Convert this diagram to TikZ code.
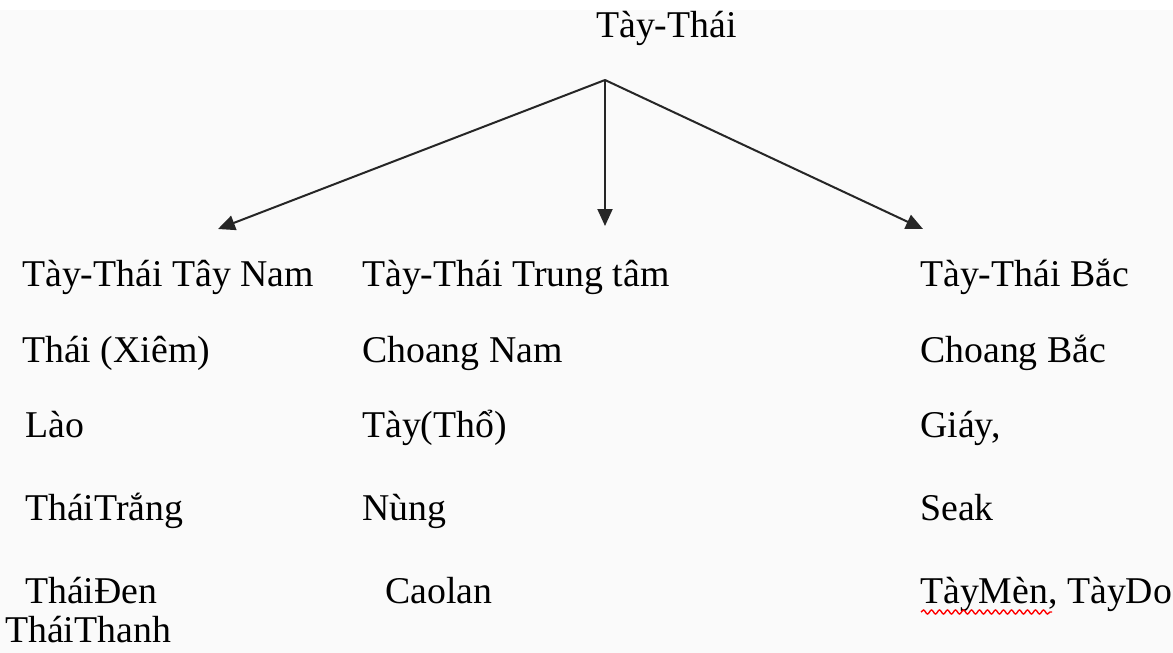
\documentclass[tikz,border=0pt]{standalone}
\usepackage{fontspec}
\setmainfont{LiberationSerif}[Extension=.ttf, UprightFont=*-Regular, BoldFont=*-Bold]
\usetikzlibrary{arrows.meta,decorations.pathmorphing}
\definecolor{paper}{HTML}{FAFAFA}
\definecolor{linegray}{HTML}{262626}
\tikzset{
  lbl/.style={anchor=base west, inner sep=0pt, font=\fontsize{37.8}{40}\selectfont},
  branch/.style={draw=linegray, line width=2pt,
    -{Triangle[length=17pt,width=15pt]}},
  spell/.style={draw=red, line width=1.4pt,
    decorate, decoration={snake, amplitude=2pt, segment length=8pt}}
}
\begin{document}
\begin{tikzpicture}[x=1pt,y=-1pt]
  % page and paper tone
  \fill[white] (0,0) rectangle (1173,653);
  \fill[paper] (0,10) rectangle (1173,653);
  \useasboundingbox (0,0) rectangle (1173,653);

  % root
  \node[lbl] (root) at (596,37) {Tày-Thái};
  \coordinate (fork) at (605,80);

  % branch heads
  \coordinate (tipL) at (218,229);
  \coordinate (tipM) at (605,226);
  \coordinate (tipR) at (923,229);

  \draw[branch] (fork) -- (tipL);
  \draw[branch] (fork) -- (tipM);
  \draw[branch] (fork) -- (tipR);

  % south-western group
  \node[lbl] (sw1) at (22,286) {Tày-Thái Tây Nam};
  \node[lbl] (sw2) at (22,362) {Thái (Xiêm)};
  \node[lbl] (sw3) at (25,437) {Lào};
  \node[lbl] (sw4) at (25,520) {TháiTrắng};
  \node[lbl] (sw5) at (25,603) {TháiĐen};
  \node[lbl] (sw6) at (5,642) {TháiThanh};

  % central group
  \node[lbl] (c1) at (362,286) {Tày-Thái Trung tâm};
  \node[lbl] (c2) at (362,362) {Choang Nam};
  \node[lbl] (c3) at (362,437) {Tày(Thổ)};
  \node[lbl] (c4) at (362,520) {Nùng};
  \node[lbl] (c5) at (385,603) {Caolan};

  % northern group
  \node[lbl] (n1) at (920,286) {Tày-Thái Bắc};
  \node[lbl] (n2) at (920,362) {Choang Bắc};
  \node[lbl] (n3) at (920,437) {Giáy,};
  \node[lbl] (n4) at (920,520) {Seak};
  \node[lbl] (n5) at (920,603) {TàyMèn, TàyDo};

  % spelling-check underline
  \coordinate (sqA) at (921,612);
  \coordinate (sqB) at (1052,612);
  \draw[spell] (sqA) -- (sqB);
\end{tikzpicture}
\end{document}
